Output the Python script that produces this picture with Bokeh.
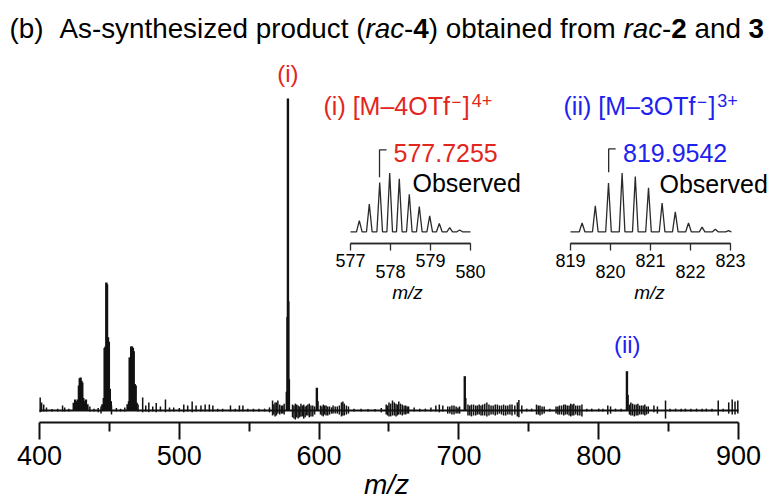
from bokeh.plotting import figure
from bokeh.models import Range1d, LinearAxis, FixedTicker, Label
from bokeh.embed import file_html
from bokeh.resources import INLINE

# ---------------- data ----------------
# main spectrum: intensity in % of the base peak
main_mz = [424.5, 425.5, 426.5, 427.5, 428.2, 428.8, 429.4, 430.0, 430.6, 431.3, 432.2, 433.2, 434.3,
           445.0, 446.0, 446.6, 447.2, 447.8, 448.3, 449.0, 449.6, 450.3, 451.0,
           463.0, 464.0, 464.5, 465.0, 465.6, 466.2, 466.8, 467.4, 468.1, 468.8, 469.5,
           576.9, 577.4, 577.7, 578.0, 578.4,
           598.4, 598.9,
           704.2, 704.6,
           820.2, 820.7]
main_int = [2.5, 3.5, 3.0, 3.5, 8.0, 10.3, 10.6, 9.5, 9.0, 4.0, 3.0, 3.5, 2.0,
            2.0, 4.0, 20.0, 20.5, 41.0, 40.5, 23.5, 22.0, 7.0, 3.0,
            2.0, 3.0, 17.0, 17.0, 20.5, 20.5, 20.0, 19.0, 8.5, 8.0, 2.5,
            6.0, 30.0, 100.0, 35.0, 10.0,
            7.3, 3.0,
            11.0, 4.0,
            12.6, 5.0]

# baseline noise: m/z, height above and depth below the baseline (%)
noise_mz = [400.5, 401.5, 403.0, 405.0, 409.0, 413.0, 416.5, 418.0, 421.0, 436.0, 439.0, 442.0,
            444.0, 451.5, 455.0, 458.0, 461.0, 470.5, 473.8, 476.0, 478.2, 481.0, 483.5, 486.5,
            490.1, 493.0, 496.0, 500.0, 503.2, 506.0, 509.2, 512.0, 515.5, 518.5, 521.5, 524.0,
            527.5, 531.0, 536.6, 540.0, 543.0, 545.5, 549.0, 553.0, 557.0, 561.0, 564.5, 566.7,
            568.5, 570.5, 573.0, 575.0, 581.0, 583.0, 585.0, 587.0, 589.0, 591.0, 593.0, 595.5,
            601.0, 603.0, 605.0, 607.5, 610.0, 613.0, 616.0, 618.0, 621.0, 625.0, 630.0, 635.0,
            640.0, 644.5, 648.0, 650.0, 652.5, 655.0, 657.0, 659.5, 662.0, 664.0, 668.0, 672.0,
            676.0, 680.0, 683.5, 686.0, 688.5, 692.0, 695.0, 698.0, 700.5, 706.5, 709.0, 712.0,
            714.5, 717.0, 720.0, 723.0, 726.0, 729.0, 732.0, 735.0, 738.0, 742.9, 745.0, 748.5,
            752.0, 755.5, 758.0, 761.0, 765.0, 769.5, 772.0, 775.0, 777.5, 780.0, 782.2, 785.0,
            788.0, 791.5, 795.0, 800.0, 803.0, 806.5, 808.5, 812.0, 816.0, 823.0, 825.5, 828.0,
            830.5, 833.0, 835.5, 839.5, 842.0, 847.8, 851.0, 855.0, 859.0, 862.0, 866.0, 870.0,
            874.0, 877.0, 881.0, 885.5, 889.0, 893.0, 895.5, 897.5, 899.5,
            567.6, 569.5, 571.8, 574.0, 582.0, 584.0, 586.0, 588.0, 590.0, 592.0, 594.2, 596.8,
            602.0, 604.0, 606.2, 609.0, 611.5, 614.5, 617.0, 619.5, 649.0, 651.2, 653.8, 656.0,
            658.2, 660.8, 663.0, 693.5, 696.5, 699.3, 707.8, 710.5, 713.2, 715.8, 718.5, 721.5,
            724.5, 727.5, 730.5, 733.5, 736.5, 740.0, 741.8, 756.8, 759.5, 770.8, 773.5, 776.2,
            778.8, 781.0, 783.6, 786.5, 822.0, 824.2, 826.8, 829.2, 831.8, 834.2]
noise_hi = [4.2, 2.6, 1.9, 1.0, 0.5, 0.6, 1.6, 1.0, 0.6, 1.3, 0.6, 0.8,
            1.3, 1.6, 0.8, 0.6, 1.0, 1.9, 4.2, 1.6, 2.6, 1.3, 2.4, 1.3,
            3.5, 1.0, 1.0, 0.8, 1.9, 1.6, 2.9, 1.6, 1.6, 1.9, 1.9, 1.6,
            0.6, 0.6, 1.6, 0.6, 1.6, 1.6, 0.6, 0.6, 0.6, 0.6, 1.0, 3.2,
            2.6, 3.2, 1.6, 2.2, 1.9, 2.2, 1.6, 2.2, 1.9, 1.6, 2.2, 1.6,
            1.6, 1.9, 1.6, 1.3, 1.6, 1.3, 2.6, 2.2, 1.3, 0.6, 0.6, 0.5,
            0.5, 0.8, 1.9, 2.6, 3.2, 2.2, 2.9, 1.9, 1.6, 1.3, 1.0, 0.6,
            0.6, 1.0, 1.6, 1.9, 1.6, 1.3, 1.6, 1.3, 1.3, 1.9, 1.9, 1.6,
            1.9, 1.9, 2.6, 1.6, 1.9, 1.6, 1.9, 1.6, 1.9, 3.4, 1.6, 0.6,
            0.6, 1.9, 1.6, 1.3, 0.6, 1.3, 1.6, 1.9, 1.6, 2.2, 2.2, 1.6,
            1.9, 0.6, 0.6, 0.6, 0.6, 1.6, 1.3, 0.6, 0.6, 2.6, 1.9, 2.2,
            1.6, 1.9, 1.3, 1.6, 1.3, 3.2, 0.6, 0.6, 0.6, 0.6, 0.6, 0.6,
            0.6, 0.6, 0.6, 3.2, 0.6, 2.6, 3.5, 2.9, 3.2,
            2.0, 2.6, 1.9, 1.6, 1.6, 1.9, 1.3, 1.6, 1.3, 1.9, 1.6, 1.3,
            1.3, 1.6, 1.3, 1.0, 1.3, 1.6, 2.9, 1.6, 1.6, 2.2, 2.6, 1.9,
            2.2, 1.6, 1.3, 1.3, 1.6, 1.0, 1.6, 1.9, 1.6, 1.6, 2.2, 1.9,
            1.6, 1.9, 1.6, 1.6, 1.9, 1.6, 2.6, 1.6, 1.3, 1.3, 1.6, 1.9,
            1.6, 1.9, 1.6, 1.6, 1.9, 2.2, 1.9, 1.6, 1.6, 1.3]
noise_lo = [0.6, 0.3, 0.3, 0.3, 0.3, 0.3, 0.3, 0.3, 0.3, 0.3, 0.3, 0.6,
            1.0, 1.3, 0.3, 0.3, 0.3, 0.3, 0.6, 0.3, 0.6, 0.3, 0.6, 0.3,
            0.6, 0.3, 0.3, 0.3, 0.6, 0.3, 0.6, 0.3, 0.3, 0.3, 0.3, 0.3,
            0.3, 0.3, 0.3, 0.3, 0.3, 0.3, 0.3, 0.3, 0.3, 0.3, 0.6, 1.6,
            1.9, 1.0, 1.0, 1.3, 2.2, 2.9, 2.6, 1.9, 2.6, 1.6, 2.2, 1.9,
            1.3, 1.9, 1.6, 1.3, 1.0, 1.0, 1.9, 1.6, 1.0, 0.3, 0.3, 0.3,
            0.3, 0.6, 1.3, 1.9, 1.6, 1.9, 1.3, 1.6, 1.3, 1.0, 0.3, 0.3,
            0.3, 0.3, 0.3, 0.6, 0.3, 1.0, 1.3, 1.0, 1.0, 1.6, 1.9, 1.6,
            1.3, 1.6, 1.9, 1.3, 1.6, 1.0, 1.6, 1.3, 1.6, 2.2, 1.0, 0.3,
            0.3, 1.3, 1.6, 1.0, 0.3, 1.0, 1.3, 1.6, 1.3, 1.9, 1.6, 1.6,
            1.9, 0.3, 0.3, 0.3, 0.3, 1.3, 1.0, 0.3, 0.3, 1.6, 1.9, 1.6,
            1.3, 1.6, 1.0, 0.6, 1.0, 2.6, 0.3, 0.3, 0.3, 0.3, 0.3, 0.3,
            0.3, 0.3, 0.3, 1.6, 0.3, 1.0, 1.3, 1.3, 1.0,
            1.3, 1.6, 1.3, 1.0, 2.6, 2.2, 2.2, 1.9, 2.2, 1.6, 1.9, 1.3,
            1.6, 1.3, 1.6, 1.0, 1.0, 1.3, 1.6, 1.3, 1.6, 1.9, 1.6, 1.6,
            1.3, 1.3, 1.0, 1.0, 1.3, 1.0, 1.6, 1.6, 1.3, 1.6, 1.6, 1.6,
            1.3, 1.3, 1.3, 1.6, 1.3, 1.3, 1.9, 1.3, 1.3, 1.3, 1.3, 1.3,
            1.6, 1.6, 1.3, 1.6, 1.3, 1.6, 1.6, 1.3, 1.3, 1.3]

# inset (i): [M-4OTf]4+ isotope pattern (relative)
ins1_mz = [577.22, 577.47, 577.73, 577.98, 578.22, 578.47, 578.72, 578.98, 579.22, 579.48, 579.73]
ins1_int = [0.19, 0.47, 0.84, 1.00, 0.90, 0.64, 0.43, 0.27, 0.14, 0.07, 0.03]
ins1_ticks = [577, 578, 579, 580]
ins1_obs = 577.7255

# inset (ii): [M-3OTf]3+ isotope pattern (relative)
ins2_mz = [819.29, 819.62, 819.95, 820.29, 820.62, 820.95, 821.29, 821.62, 821.95, 822.29, 822.62, 822.95]
ins2_int = [0.15, 0.44, 0.83, 1.00, 0.94, 0.75, 0.49, 0.34, 0.15, 0.08, 0.045, 0.02]
ins2_ticks = [819, 820, 821, 822, 823]
ins2_obs = 819.9542

main_ticks = [400, 500, 600, 700, 800, 900]
main_minor = [450, 550, 650, 750, 850]

# ---------------- style ----------------
FONT = "Liberation Sans"
RED = "#e3261d"
BLUE = "#1e22ee"
INK = "#111111"
GREY = "#2a2a2a"

W = {' ': 278, '(': 333, ')': 333, '-': 333, '.': 278, '/': 278, '[': 278, ']': 278, '+': 584,
     '\u2212': 584, '\u2013': 556, 'A': 667, 'M': 833, 'O': 778, 'T': 611, 'a': 556, 'b': 556,
     'c': 500, 'd': 556, 'e': 556, 'f': 278, 'h': 556, 'i': 222, 'm': 833, 'n': 556, 'o': 556,
     'p': 556, 'r': 333, 's': 500, 't': 278, 'u': 556, 'v': 500, 'y': 500, 'z': 500}
for _d in "0123456789":
    W[_d] = 556


def adv(s, size):
    return sum(W[c] for c in s) / 1000.0 * size


# frame covers the whole canvas; axes are placed with fixed_location
p = figure(width=773, height=499, x_range=Range1d(372.103, 925.036),
           y_range=Range1d(-28.526, 131.41),
           output_backend="svg", toolbar_location=None,
           x_axis_location=None, y_axis_location=None,
           min_border_left=0, min_border_right=0, min_border_top=0, min_border_bottom=0)
p.outline_line_color = None
p.xgrid.visible = False
p.ygrid.visible = False

p.extra_x_ranges = {"px": Range1d(0, 773),
                    "ix1": Range1d(568.25, 587.575),
                    "ix2": Range1d(804.75, 824.075)}
p.extra_y_ranges = {"py": Range1d(499, 0),
                    "iy": Range1d(-4.553, 3.934)}
MAIN_AXIS_Y = -4.006
INSET_AXIS_Y = -0.204

# main axis
main_axis = LinearAxis(fixed_location=MAIN_AXIS_Y, bounds=(main_ticks[0], main_ticks[-1]),
                       ticker=FixedTicker(ticks=main_ticks, minor_ticks=main_minor),
                       axis_line_width=2, axis_line_color=INK,
                       major_tick_line_width=2, minor_tick_line_width=2,
                       major_tick_line_color=INK, minor_tick_line_color=INK,
                       major_tick_out=17, major_tick_in=0, minor_tick_out=9, minor_tick_in=0,
                       major_label_text_font=FONT, major_label_text_font_size="27px",
                       major_label_text_color="black", major_label_standoff=6)
p.add_layout(main_axis, "below")

# main spectrum
p.line([main_ticks[0], main_ticks[-1]], [0, 0], line_color=INK, line_width=1.8)
p.segment(x0=noise_mz, y0=[-d for d in noise_lo], x1=noise_mz, y1=noise_hi,
          line_color=INK, line_width=1.5)
p.segment(x0=main_mz, y0=[0] * len(main_mz), x1=main_mz, y1=main_int,
          line_color=INK, line_width=2.4)


# inset profiles
def profile(mz, inten, lo, hi, hw=0.07):
    xs, ys = [lo], [0.0]
    for m, h in zip(mz, inten):
        xs += [m - hw, m, m + hw]
        ys += [0.0, h, 0.0]
    xs.append(hi)
    ys.append(0.0)
    return xs, ys


x1, y1 = profile(ins1_mz, ins1_int, ins1_ticks[0], ins1_ticks[-1])
p.line(x1, y1, x_range_name="ix1", y_range_name="iy", line_color=GREY, line_width=1.3)
x2, y2 = profile(ins2_mz, ins2_int, ins2_ticks[0], ins2_ticks[-1])
p.line(x2, y2, x_range_name="ix2", y_range_name="iy", line_color=GREY, line_width=1.3)

# brackets over the observed peak
p.line([ins1_obs, ins1_obs, ins1_obs + 0.175], [0.929, 1.395, 1.395], x_range_name="ix1",
       y_range_name="iy", line_color=GREY, line_width=1.3)
p.line([ins2_obs, ins2_obs, ins2_obs + 0.175], [1.014, 1.41, 1.41], x_range_name="ix2",
       y_range_name="iy", line_color=GREY, line_width=1.3)


def inset_axis(rname, ticks, bounds, standoff):
    a = LinearAxis(x_range_name=rname, y_range_name="iy", fixed_location=INSET_AXIS_Y,
                   bounds=bounds, ticker=FixedTicker(ticks=ticks),
                   major_tick_out=7, major_tick_in=0, minor_tick_out=0, minor_tick_in=0,
                   axis_line_width=1.3, axis_line_color=GREY,
                   major_tick_line_width=1.3, major_tick_line_color=GREY,
                   major_label_text_font=FONT, major_label_text_font_size="18px",
                   major_label_text_color="black", major_label_standoff=standoff)
    p.add_layout(a, "below")


b1 = (ins1_ticks[0], ins1_ticks[-1])
b2 = (ins2_ticks[0], ins2_ticks[-1])
inset_axis("ix1", ins1_ticks[0::2], b1, 3)
inset_axis("ix1", ins1_ticks[1::2], b1, 14)
inset_axis("ix2", ins2_ticks[0::2], b2, 3)
inset_axis("ix2", ins2_ticks[1::2], b2, 14)

BASELINE_FIX = 0.37  # compensation for how labels sit on their anchor


def put(text, x, y, size, color="black", style="normal", align="left", xr="px", yr="py"):
    yy = y - BASELINE_FIX * size if yr == "py" else y
    p.add_layout(Label(x=x, y=yy, x_range_name=xr, y_range_name=yr, text=text,
                       text_font=FONT, text_font_size=f"{size}px", text_font_style=style,
                       text_color=color, text_align=align, text_baseline="alphabetic"))


# title
TS = 27.8
put("(b)", 9, 38, TS)
title_parts = [("As-synthesized product (", "normal"), ("rac", "italic"), ("-", "normal"),
               ("4", "bold"), (") obtained from ", "normal"), ("rac", "italic"), ("-", "normal"),
               ("2", "bold"), (" and ", "normal"), ("3", "bold")]
x = 59.0
for t, st in title_parts:
    lead = len(t) - len(t.lstrip(" "))
    core = t.strip(" ")
    trail = len(t) - lead - len(core)
    x += lead * 0.278 * TS
    put(core, x, 38, TS, style=st)
    x += adv(core, TS) + trail * 0.278 * TS

# peak markers in the main spectrum
put("(i)", main_mz[main_int.index(max(main_int))], 82, 24, RED, align="center", xr="default")
put("(ii)", 820.4, 353, 24, BLUE, align="center", xr="default")


# inset titles
def ion_title(x, y, body, charge, color):
    put(body, x, y, 25, color)
    x += adv(body, 25) + 1.5
    put("\u2212", x, y - 7, 17, color)
    x += adv("\u2212", 17) + 1.5
    put("]", x, y, 25, color)
    x += adv("]", 25) + 2
    put(charge, x, y - 8, 18, color)


ion_title(323, 115, "(i) [M\u20134OTf", "4+", RED)
ion_title(563, 115, "(ii) [M\u20133OTf", "3+", BLUE)

put("577.7255", 393, 161.5, 25, RED)
put("Observed", 412, 191.5, 25)
put("819.9542", 622.5, 162, 25, BLUE)
put("Observed", 659, 192.5, 25)

put("m/z", 407, 299, 19, style="italic", align="center")
put("m/z", 649, 299, 19, style="italic", align="center")
put("m/z", 386, 494, 28, style="italic", align="center")

open("out.html", "w").write(file_html(p, INLINE))
